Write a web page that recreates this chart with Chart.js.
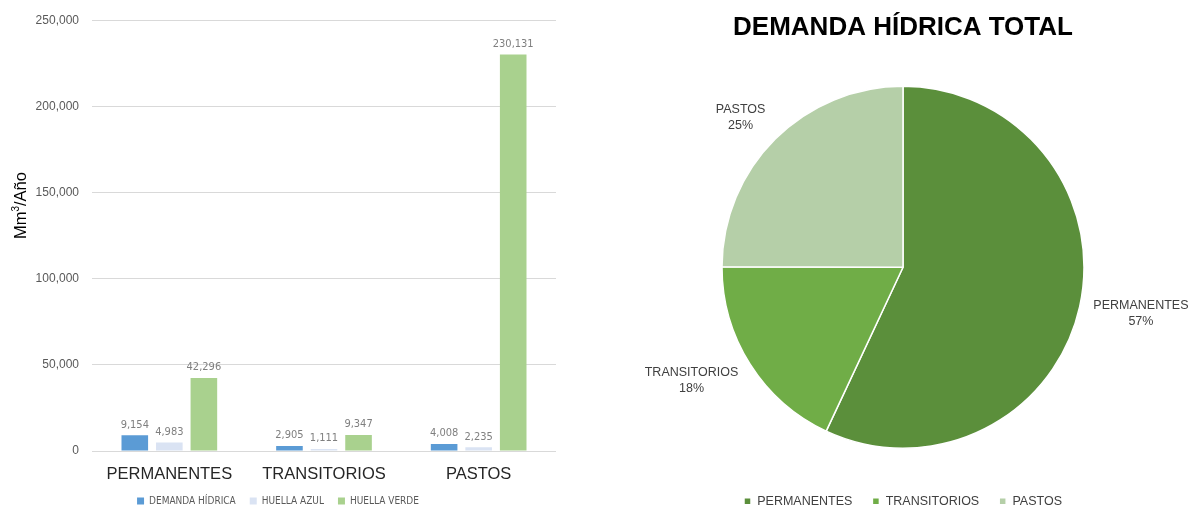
<!DOCTYPE html>
<html>
<head>
<meta charset="utf-8">
<script src="https://cdn.jsdelivr.net/npm/chart.js@4.4.1/dist/chart.umd.min.js"></script>
<style>
  body { margin: 0; background: #fff; width: 1191px; height: 510px; position: relative; overflow: hidden; }
  #barWrap { position: absolute; left: 0; top: 0; width: 600px; height: 510px; }
  #pieWrap { position: absolute; left: 615px; top: 0; width: 576px; height: 510px; }
</style>
</head>
<body>
<div id="barWrap"><canvas id="barChart"></canvas></div>
<div id="pieWrap"><canvas id="pieChart"></canvas></div>
<script>
var categorias = ['PERMANENTES', 'TRANSITORIOS', 'PASTOS'];
var demandaHidrica = [9154, 2905, 4008];
var huellaAzul = [4983, 1111, 2235];
var huellaVerde = [42296, 9347, 230131];
var ticksY = [0, 50000, 100000, 150000, 200000, 250000];

var fuente = "'Liberation Sans', Arial, sans-serif";
var fuenteEstrecha = "'Liberation Sans Narrow', 'DejaVu Sans Condensed', 'Liberation Sans', sans-serif";

function miles(v) {
    return Number(v).toLocaleString('en-US');
}

// valores encima de cada barra
var etiquetasBarras = {
    id: 'etiquetasBarras',
    afterDatasetsDraw: function(chart) {
        var ctx = chart.ctx;
        ctx.save();
        ctx.font = '11px ' + fuenteEstrecha;
        ctx.fillStyle = '#7f7f7f';
        ctx.textAlign = 'center';
        ctx.textBaseline = 'bottom';
        chart.data.datasets.forEach(function(ds, i) {
            chart.getDatasetMeta(i).data.forEach(function(barra, j) {
                ctx.fillText(miles(ds.data[j]), barra.x, barra.y - 5);
            });
        });
        ctx.restore();
    }
};

// título del eje Y con el 3 en superíndice
var tituloEje = {
    id: 'tituloEje',
    afterDraw: function(chart) {
        var ctx = chart.ctx, area = chart.chartArea;
        var partes = [['Mm', 16.5, 0], ['3', 10, -5], ['/Año', 16.5, 0]];
        ctx.save();
        ctx.translate(21, (area.top + area.bottom) / 2 - 30);
        ctx.rotate(-Math.PI / 2);
        ctx.fillStyle = '#000';
        ctx.textBaseline = 'middle';
        ctx.textAlign = 'left';
        var total = 0;
        partes.forEach(function(p) {
            ctx.font = p[1] + 'px ' + fuente;
            total += ctx.measureText(p[0]).width;
        });
        var x = -total / 2;
        partes.forEach(function(p) {
            ctx.font = p[1] + 'px ' + fuente;
            ctx.fillText(p[0], x, p[2]);
            x += ctx.measureText(p[0]).width;
        });
        ctx.restore();
    }
};

// nombre y porcentaje fuera de cada sector
var etiquetasPastel = {
    id: 'etiquetasPastel',
    afterDatasetsDraw: function(chart) {
        var ctx = chart.ctx;
        var datos = chart.data.datasets[0].data;
        var total = datos.reduce(function(a, b) { return a + b; }, 0);
        ctx.save();
        ctx.font = '12.5px ' + fuente;
        ctx.fillStyle = '#404040';
        ctx.textAlign = 'center';
        ctx.textBaseline = 'middle';
        chart.getDatasetMeta(0).data.forEach(function(arco, i) {
            var medio = (arco.startAngle + arco.endAngle) / 2;
            var cos = Math.cos(medio), sin = Math.sin(medio);
            var lineas = [chart.data.labels[i], Math.round(datos[i] / total * 100) + '%'];
            var ancho = Math.max(ctx.measureText(lineas[0]).width, ctx.measureText(lineas[1]).width);
            var alto = 32;
            var r = arco.outerRadius + 14;
            var cx = arco.x + cos * r + Math.sign(cos) * ancho / 2;
            var cy = arco.y + sin * r + sin * alto / 2;
            ctx.fillText(lineas[0], cx, cy - 8);
            ctx.fillText(lineas[1], cx, cy + 8);
        });
        ctx.restore();
    }
};

new Chart(document.getElementById('barChart'), {
    type: 'bar',
    data: {
        labels: categorias,
        datasets: [
            { label: 'DEMANDA HÍDRICA', data: demandaHidrica, backgroundColor: '#5b9bd5' },
            { label: 'HUELLA AZUL', data: huellaAzul, backgroundColor: '#dae3f3' },
            { label: 'HUELLA VERDE', data: huellaVerde, backgroundColor: '#a9d18e' }
        ]
    },
    options: {
        responsive: true,
        maintainAspectRatio: false,
        animation: false,
        categoryPercentage: 0.67,
        barPercentage: 0.77,
        layout: { padding: { top: 16, right: 44, left: 0, bottom: -6 } },
        scales: {
            x: {
                grid: { display: false },
                border: { display: false },
                ticks: { color: '#262626', padding: 7, font: { family: fuente, size: 16.5, lineHeight: 1 } },
                afterFit: function(scale) { scale.height = 31; }
            },
            y: {
                min: ticksY[0],
                max: ticksY[ticksY.length - 1],
                border: { display: false },
                grid: { color: '#d9d9d9', drawTicks: false },
                ticks: {
                    stepSize: ticksY[1] - ticksY[0],
                    padding: 13,
                    color: '#595959',
                    font: { family: fuente, size: 12 },
                    callback: function(v) { return miles(v); }
                },
                afterFit: function(scale) { scale.width = 92; }
            }
        },
        plugins: {
            legend: {
                position: 'bottom',
                labels: {
                    boxWidth: 7,
                    boxHeight: 7,
                    padding: 14,
                    color: '#595959',
                    font: { family: fuenteEstrecha, size: 10 }
                }
            },
            tooltip: { enabled: false }
        }
    },
    plugins: [etiquetasBarras, tituloEje]
});

new Chart(document.getElementById('pieChart'), {
    type: 'pie',
    data: {
        labels: categorias,
        datasets: [{
            data: demandaHidrica,
            backgroundColor: ['#5b8f3b', '#70ad47', '#b5cfa8'],
            borderColor: '#ffffff',
            borderWidth: 1.5,
            radius: 181
        }]
    },
    options: {
        responsive: true,
        maintainAspectRatio: false,
        animation: false,
        layout: { padding: { bottom: -7.5 } },
        plugins: {
            title: {
                display: true,
                text: 'DEMANDA HÍDRICA TOTAL',
                color: '#000',
                padding: { top: 12.4, bottom: 15.9 },
                font: { family: fuente, size: 26, weight: 'bold' }
            },
            legend: {
                position: 'bottom',
                labels: {
                    boxWidth: 7,
                    boxHeight: 7,
                    padding: 20,
                    color: '#404040',
                    font: { family: fuente, size: 12.5 }
                }
            },
            tooltip: { enabled: false }
        }
    },
    plugins: [etiquetasPastel]
});
</script>
</body>
</html>
